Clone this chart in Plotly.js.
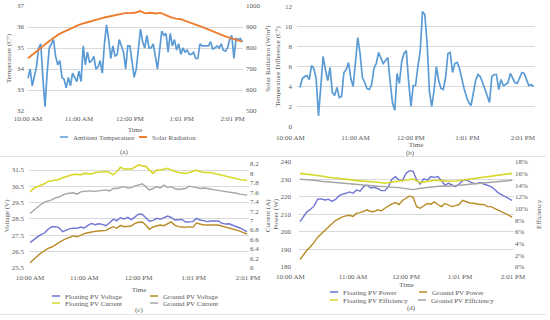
<!DOCTYPE html>
<html>
<head>
<meta charset="utf-8">
<script src="https://cdn.plot.ly/plotly-3.0.1.min.js"></script>
<style>
html,body{margin:0;padding:0;background:#fff;}
#chart{width:550px;height:320px;}
.legendlines path{stroke-dasharray:0 22 13 40 !important;}
</style>
</head>
<body>
<div id="chart"></div>
<script>
// ---------- categories / tick labels ----------
const tickMinutes = [0, 60, 120, 181, 241];
const tickLabels = ['10:00 AM', '11:00 AM', '12:00 PM', '1:01 PM', '2:01 PM'];

// ---------- (a) ambient temperature (°C), every 2.5 min ----------
const ambientStep = 2.5;
const ambientTemp = [33.56,34.0,33.2,33.6,34.1,35.0,35.2,33.6,32.2,33.8,
 35.0,35.2,35.4,34.6,34.2,34.4,33.6,33.5,33.1,33.6,
 33.2,33.8,33.6,33.4,33.9,33.4,35.1,34.2,34.8,34.3,
 34.4,34.6,34.0,34.1,34.4,33.8,35.2,36.1,35.4,34.5,
 35.1,34.6,34.7,35.4,35.1,34.8,34.0,35.1,35.1,34.2,
 33.6,34.0,35.0,35.9,35.3,35.0,35.6,35.0,35.0,35.2,
 34.6,34.0,34.9,35.8,35.6,35.7,34.8,35.7,35.1,35.4,
 34.9,35.2,34.7,35.0,34.8,34.9,34.7,34.7,34.8,34.5,
 34.5,35.2,35.1,35.1,35.1,35.1,35.3,34.95,35.0,35.1,
 35.0,35.2,34.9,34.85,35.0,35.4,35.6,34.5,35.45,35.4,
 35.45,35.3];

// ---------- (a) solar radiation (W/m2), every 6 min ----------
const solarStep = 6;
const solarRadiation = [751,771,794,813,830,848,865,877,889,900,
 910,918,926,933,939,945,950,956,962,966,
 966,968,976,965,968,964,967,955,947,940,
 937,928,920,912,902,892,881,871,862,853,
 845,837,830];

// ---------- (b) temperature difference (°C), every 2.5 min ----------
const diffStep = 2.5;
const tempDiff = [3.9,4.8,5.0,5.1,4.7,6.1,5.8,4.8,1.05,4.2,
 7.0,5.7,4.6,5.9,3.4,3.1,3.9,2.9,3.0,5.4,
 5.7,6.4,4.8,4.0,6.3,8.9,7.3,4.9,4.4,3.8,
 3.7,4.2,5.8,6.3,7.4,6.9,6.3,6.6,6.9,4.5,
 2.4,1.6,5.3,4.3,6.5,7.3,7.6,4.5,2.0,4.1,
 4.1,6.0,7.5,11.5,11.2,8.3,3.5,2.0,3.6,6.0,
 4.6,3.8,3.7,4.9,7.3,7.4,5.4,6.3,6.4,5.8,
 4.7,3.8,3.0,2.4,2.1,3.5,4.6,5.2,5.0,4.4,
 3.7,3.2,2.4,5.0,5.2,5.2,3.7,4.7,4.1,4.2,
 4.4,5.3,4.9,4.4,4.3,4.8,5.4,5.3,4.6,4.1,
 4.2,4.0];

// ---------- (c) voltages (V) and currents (A), every 4 min ----------
const pvStep = 4;
const floatVoltage = [27.04,27.24,27.38,27.53,27.63,27.86,28.02,28.02,27.96,27.71,
 27.79,27.90,27.92,27.92,28.00,27.94,28.10,28.22,28.14,28.20,
 28.16,28.08,28.26,28.47,28.39,28.57,28.49,28.59,28.45,28.59,
 28.78,28.78,28.59,28.35,28.41,28.53,28.47,28.59,28.67,28.59,
 28.43,28.45,28.47,28.31,28.31,28.33,28.53,28.43,28.39,28.33,
 28.37,28.35,28.37,28.24,28.18,28.20,28.12,28.04,27.94,27.83,
 27.71];
const groundVoltage = [25.81,26.01,26.20,26.40,26.54,26.69,26.77,26.91,27.08,27.18,
 27.28,27.36,27.45,27.40,27.51,27.59,27.65,27.71,27.73,27.75,
 27.77,27.79,27.92,28.02,27.92,28.10,28.02,28.06,28.06,28.22,
 28.29,28.31,28.12,27.86,28.00,28.06,28.12,28.08,28.22,28.31,
 28.12,28.02,28.00,27.98,28.02,27.98,28.24,28.18,28.12,28.12,
 28.14,28.12,28.12,28.06,28.02,27.96,27.88,27.81,27.75,27.65,
 27.57];
const floatCurrent = [7.61,7.68,7.72,7.75,7.78,7.83,7.84,7.86,7.87,7.91,
 7.93,7.96,7.98,7.98,7.97,8.00,7.99,7.99,8.02,8.03,
 8.04,8.04,8.02,7.97,8.04,8.13,8.09,8.10,8.09,8.13,
 8.18,8.16,8.15,8.07,8.00,8.07,8.07,8.09,8.11,8.07,
 8.04,8.02,8.01,8.00,8.02,8.04,8.07,8.04,8.02,8.02,
 8.02,8.00,7.98,7.97,7.95,7.92,7.90,7.89,7.87,7.86,
 7.85];
const groundCurrent = [7.15,7.22,7.27,7.34,7.39,7.41,7.44,7.48,7.50,7.54,
 7.57,7.58,7.59,7.56,7.61,7.62,7.63,7.63,7.62,7.63,
 7.65,7.65,7.63,7.68,7.68,7.70,7.72,7.69,7.70,7.73,
 7.76,7.78,7.72,7.65,7.68,7.72,7.69,7.75,7.70,7.72,
 7.68,7.66,7.67,7.68,7.73,7.72,7.70,7.68,7.69,7.68,
 7.66,7.65,7.64,7.63,7.61,7.61,7.60,7.58,7.56,7.55,
 7.54];

// ---------- (d) power (W) every 4 min, efficiency (%) every 8 min ----------
const floatPower = [205.9,209.1,211.6,212.9,214.8,218.6,218.8,218.2,218.6,217.5,
 218.4,220.5,221.5,222.0,222.8,222.0,223.9,223.2,225.8,226.6,
 225.0,225.4,224.7,223.5,223.5,225.8,230.0,231.5,229.6,229.2,
 233.4,234.9,234.5,229.6,227.3,230.3,229.6,231.5,231.1,231.5,
 228.8,226.7,227.7,226.7,225.8,227.3,229.2,229.6,228.5,227.7,
 227.5,228.1,227.3,226.6,225.8,224.3,222.4,221.3,220.1,218.6,
 217.9];
const groundPower = [184.2,187.0,189.7,191.7,194.0,197.0,198.7,200.8,202.7,204.4,
 206.5,207.4,208.6,209.1,209.5,208.8,210.7,211.0,211.8,212.6,
 211.6,211.6,212.6,212.0,213.5,214.8,216.0,216.7,215.6,217.9,
 219.0,220.5,219.7,214.4,213.5,214.8,216.2,215.8,217.1,215.6,
 214.4,216.2,215.4,214.4,215.0,215.6,218.0,217.1,216.5,216.3,
 215.8,215.6,215.6,214.4,214.4,213.5,212.6,211.6,210.7,209.5,
 208.4];
const effStep = 8;
const floatEff = [16.01,15.90,15.73,15.56,15.33,15.22,15.05,14.93,14.76,14.71,
 14.59,14.48,14.31,14.48,14.71,14.88,15.05,14.42,14.65,14.82,
 14.76,14.65,14.71,14.88,15.10,15.27,15.44,15.61,15.73,15.90,
 16.01];
const groundEff = [14.99,14.93,14.82,14.65,14.54,14.42,14.31,14.14,14.02,13.91,
 13.85,13.80,13.74,13.68,13.57,13.40,13.23,13.46,13.63,13.74,
 13.85,13.80,13.85,14.02,14.14,14.25,14.31,14.42,14.54,14.71,
 14.82];

// ---------- helpers ----------
const W = 550, H = 320;
const fx = p => p / W;          // pixel -> paper x
const fy = p => 1 - p / H;      // pixel -> paper y
const times = (arr, step) => arr.map((_, i) => i * step);

const FONT = {family: '"Liberation Serif", "Times New Roman", serif', size: 7, color: '#595959'};
const GRID = '#d9d9d9';
const C = {blue: '#5B9BD5', orange: '#ED7D31', fv: '#7074D4', gv: '#B98A25', fc: '#D8D82C', gc: '#A5A5A5'};

const nb = '\u00a0';
const shiftedLabels = tickLabels.map((t, i) => i === 0 ? t + nb.repeat(11) : t);

function legendAt(textLeft, cy) {
  return {x: fx(textLeft - 40), xanchor: 'left', y: fy(cy), yanchor: 'middle',
          orientation: 'h', font: FONT, bgcolor: 'rgba(0,0,0,0)', borderwidth: 0};
}
function xAx(d0, d1, r0, r1, anchor, labels, labelOff, standoff) {
  return {domain: [fx(d0), fx(d1)], range: [r0, r1], anchor: anchor,
          tickmode: 'array', tickvals: tickMinutes, ticktext: labels,
          showgrid: false, zeroline: false, showline: false, ticks: '', ticklabelstandoff: labelOff,
          tickfont: FONT, title: {text: 'Time', font: FONT, standoff: standoff}, automargin: false};
}
function yAx(d0, d1, range, dtick, anchor, title, titleOff, extra) {
  return Object.assign({domain: [fy(d1), fy(d0)], range: range, dtick: dtick, anchor: anchor,
          showgrid: true, gridcolor: GRID, gridwidth: 1, zeroline: false, showline: false, ticks: '',
          tickfont: FONT, title: {text: title, font: FONT, standoff: titleOff}, automargin: false}, extra || {});
}
function label(text, x, y) {
  return {text: text, x: fx(x), y: fy(y), xref: 'paper', yref: 'paper', xanchor: 'center', yanchor: 'middle',
          showarrow: false, font: FONT};
}
function hline(y, x0, x1) {
  return {type: 'line', xref: 'paper', yref: 'paper', x0: fx(x0), x1: fx(x1), y0: fy(y), y1: fy(y),
          line: {color: '#e3e3e3', width: 1}, layer: 'below'};
}

const line = (color, w) => ({color: color, width: w || 1.6});

const traces = [
  {x: times(ambientTemp, ambientStep), y: ambientTemp, name: 'Ambient Temperature', type: 'scatter', mode: 'lines',
   line: line(C.blue, 1.7), xaxis: 'x', yaxis: 'y', legend: 'legend'},
  {x: times(solarRadiation, solarStep), y: solarRadiation, name: 'Solar Radiation', type: 'scatter', mode: 'lines',
   line: line(C.orange, 1.9), xaxis: 'x', yaxis: 'y2', legend: 'legend2'},
  {x: times(tempDiff, diffStep), y: tempDiff, name: 'Temperature Difference', type: 'scatter', mode: 'lines',
   line: line(C.blue, 1.7), xaxis: 'x2', yaxis: 'y3', showlegend: false},
  {x: times(floatVoltage, pvStep), y: floatVoltage, name: 'Floating PV Voltage', type: 'scatter', mode: 'lines',
   line: line(C.fv, 1.4), xaxis: 'x3', yaxis: 'y4', legend: 'legend3'},
  {x: times(groundVoltage, pvStep), y: groundVoltage, name: 'Ground PV Voltage', type: 'scatter', mode: 'lines',
   line: line(C.gv, 1.4), xaxis: 'x3', yaxis: 'y4', legend: 'legend4'},
  {x: times(floatCurrent, pvStep), y: floatCurrent, name: 'Floating PV Current', type: 'scatter', mode: 'lines',
   line: line(C.fc, 1.6), xaxis: 'x3', yaxis: 'y5', legend: 'legend5'},
  {x: times(groundCurrent, pvStep), y: groundCurrent, name: 'Ground PV Current', type: 'scatter', mode: 'lines',
   line: line(C.gc, 1.4), xaxis: 'x3', yaxis: 'y5', legend: 'legend6'},
  {x: times(floatPower, pvStep), y: floatPower, name: 'Floating PV Power', type: 'scatter', mode: 'lines',
   line: line(C.fv, 1.4), xaxis: 'x4', yaxis: 'y6', legend: 'legend7'},
  {x: times(groundPower, pvStep), y: groundPower, name: 'Ground PV Power', type: 'scatter', mode: 'lines',
   line: line(C.gv, 1.4), xaxis: 'x4', yaxis: 'y6', legend: 'legend8'},
  {x: times(floatEff, effStep), y: floatEff, name: 'Floating PV Efficiency', type: 'scatter', mode: 'lines',
   line: line(C.fc, 1.6), xaxis: 'x4', yaxis: 'y7', legend: 'legend9'},
  {x: times(groundEff, effStep), y: groundEff, name: 'Ground PV Efficiency', type: 'scatter', mode: 'lines',
   line: line(C.gc, 1.4), xaxis: 'x4', yaxis: 'y7', legend: 'legend10'}
];

const layout = {
  width: W, height: H, autosize: false,
  margin: {l: 0, r: 0, t: 0, b: 0, pad: 0},
  paper_bgcolor: '#fff', plot_bgcolor: 'rgba(0,0,0,0)',
  font: FONT, showlegend: true, hovermode: false,

  // (a)
  xaxis: xAx(27, 243, -1.2, 253.2, 'y', tickLabels, 2, 5),
  yaxis: yAx(6, 111, [32, 37], 1, 'x', 'Temperature (C°)', 4, {ticklabelstandoff: 2}),
  yaxis2: yAx(6, 111, [500, 1000], 100, 'x', 'Solar Radiation (W/m²)', 5,
     {overlaying: 'y', side: 'right', showgrid: false, ticklabelstandoff: 2}),
  // (b)
  xaxis2: xAx(297, 535, -3.24, 254.2, 'y3', shiftedLabels, 5, 0),
  yaxis3: yAx(6.5, 126.5, [0, 12], 2, 'x2', 'Temperature Difference (C°)', 3, {ticklabelstandoff: 4}),
  // (c)
  xaxis3: xAx(29, 249, -1.1, 242.1, 'y4', tickLabels, 4, 6),
  yaxis4: yAx(164, 267.7, [25.5, 31.87], 1, 'x3', 'Voltage (V)', 1, {tick0: 25.5, ticklabelstandoff: 4}),
  yaxis5: yAx(164, 267.7, [6, 8.2], 0.2, 'x3', 'Current (A)', 6,
     {overlaying: 'y4', side: 'right', showgrid: false, tick0: 6, ticklabelstandoff: 0}),
  // (d)
  xaxis4: xAx(299, 514, -1.13, 242.13, 'y6', shiftedLabels, 4, 2),
  yaxis6: yAx(161.7, 267, [180, 240], 10, 'x4', 'Power (W)', 1, {ticklabelstandoff: 7}),
  yaxis7: yAx(161.7, 267, [0, 18], 2, 'x4', 'Efficiency', 9,
     {overlaying: 'y6', side: 'right', showgrid: false, ticksuffix: '%', ticklabelstandoff: 0}),

  legend: legendAt(73, 137),
  legend2: legendAt(152, 137),
  legend3: legendAt(65, 296),
  legend4: legendAt(163, 296),
  legend5: legendAt(65, 303),
  legend6: legendAt(163, 303),
  legend7: legendAt(343, 292),
  legend8: legendAt(432, 292),
  legend9: legendAt(343, 300),
  legend10: legendAt(431, 300),

  shapes: [hline(156.5, 0, 546), hline(314.5, 0, 546)],

  annotations: [
    label('(a)', 124, 152),
    label('(b)', 410, 152.7),
    label('(c)', 139, 309.5),
    label('(d)', 411.7, 308)
  ]
};

Plotly.newPlot('chart', traces, layout, {staticPlot: true, displayModeBar: false});
</script>
</body>
</html>
